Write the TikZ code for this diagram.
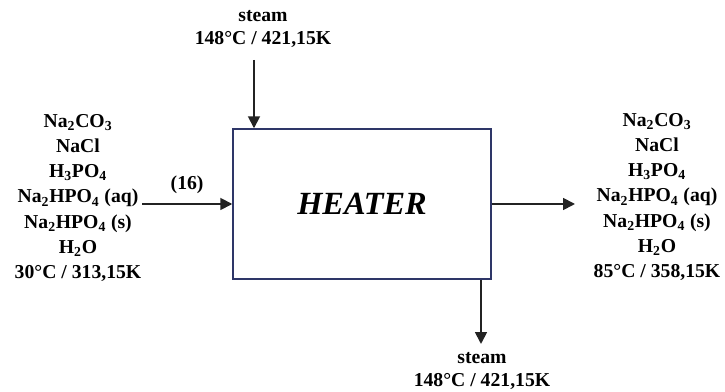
\documentclass[tikz,border=0pt]{standalone}
\usepackage{fontspec}
\setmainfont{Liberation Serif}
\usetikzlibrary{arrows.meta}
\definecolor{boxnavy}{RGB}{46,54,104}
\definecolor{linegray}{RGB}{35,35,35}
\begin{document}
\begin{tikzpicture}[x=0.025cm, y=-0.025cm,
  flow/.style={draw=linegray, line width=1.3pt, -{Triangle[length=8.5pt, width=8.5pt]}},
  stream/.style={align=center, inner sep=1pt, font=\fontsize{14}{18}\selectfont\bfseries},
  steamlabel/.style={align=center, inner sep=1pt, font=\fontsize{14}{16}\selectfont\bfseries},
  unitbox/.style={draw=boxnavy, line width=1pt, minimum width=6.45cm, minimum height=3.75cm, font=\fontsize{23}{27}\selectfont\bfseries\itshape}]
\useasboundingbox (0,0) rectangle (725,392);
\node[unitbox] (heater) at (362,204) {HEATER};
\node[stream] (feed) at (78,198) {Na\textsubscript{2}CO\textsubscript{3}\\NaCl\\H\textsubscript{3}PO\textsubscript{4}\\Na\textsubscript{2}HPO\textsubscript{4} (aq)\\Na\textsubscript{2}HPO\textsubscript{4} (s)\\H\textsubscript{2}O\\30°C / 313,15K};
\node[stream] (product) at (657,197) {Na\textsubscript{2}CO\textsubscript{3}\\NaCl\\H\textsubscript{3}PO\textsubscript{4}\\Na\textsubscript{2}HPO\textsubscript{4} (aq)\\Na\textsubscript{2}HPO\textsubscript{4} (s)\\H\textsubscript{2}O\\85°C / 358,15K};
\node[steamlabel] (steamin) at (263,29) {steam\\148°C / 421,15K};
\node[steamlabel] (steamout) at (482,371) {steam\\148°C / 421,15K};
\coordinate (feedend) at (142,204);
\coordinate (productend) at (575,204);
\coordinate (steamtop) at (254,60);
\coordinate (steambot) at (481,344);
\draw[flow] (feedend) -- (heater.west) node[midway, above=3pt, font=\fontsize{14}{16}\selectfont\bfseries] (s16) {(16)};
\draw[flow] (heater.east) -- (productend);
\draw[flow] (steamtop) -- (steamtop |- heater.north);
\draw[flow] (steambot |- heater.south) -- (steambot);
\end{tikzpicture}
\end{document}
